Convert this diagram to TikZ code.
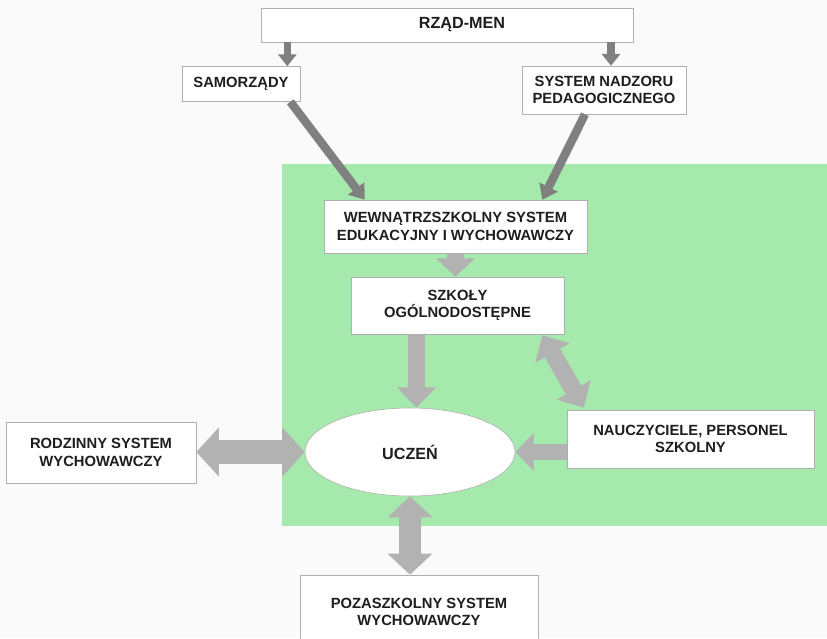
\documentclass[tikz,border=0pt]{standalone}
\usepackage{fontspec}
\setmainfont{Liberation Sans}
\usetikzlibrary{arrows.meta,calc,shapes.geometric}

\definecolor{pagebg}{RGB}{250,250,250}
\definecolor{schoolgreen}{RGB}{166,233,173}
\definecolor{boxline}{RGB}{175,175,175}
\definecolor{darkarrow}{RGB}{128,128,128}
\definecolor{blockgray}{RGB}{178,178,178}
\definecolor{textgray}{RGB}{30,30,30}

\begin{document}
\begin{tikzpicture}[x=0.025cm,y=-0.025cm]
    \clip (0,0) rectangle (827,638);
    \fill[pagebg] (0,0) rectangle (827,638);
    \fill[schoolgreen] (282,164) rectangle (827,526);

    \begin{scope}[every node/.style={draw=boxline, fill=white, align=center, inner sep=2pt, text=textgray, font=\bfseries\fontsize{10.5}{12.5}\selectfont}]
        \node[minimum width=9.3cm, minimum height=0.85cm, font=\bfseries\fontsize{11.5}{13}\selectfont] (men) at (447,25) {\hspace*{0.75cm}RZĄD-MEN};
        \node[minimum width=2.95cm, minimum height=0.875cm] (sam) at (241,84) {SAMORZĄDY};
        \node[minimum width=4.1cm, minimum height=1.2cm] (nadz) at (604,90) {SYSTEM NADZORU\\PEDAGOGICZNEGO};
        \node[minimum width=6.575cm, minimum height=1.325cm] (wewn) at (455.5,226.5) {WEWNĄTRZSZKOLNY SYSTEM\\EDUKACYJNY I WYCHOWAWCZY};
        \node[minimum width=5.325cm, minimum height=1.425cm] (szk) at (457.5,305.5) {SZKOŁY\\OGÓLNODOSTĘPNE};
        \node[shape=ellipse, inner sep=0pt, minimum width=5.25cm, minimum height=2.2cm, font=\bfseries\fontsize{11.5}{13}\selectfont] (ucz) at (410,452) {UCZEŃ};
        \node[minimum width=6.175cm, minimum height=1.45cm] (naucz) at (690.5,439) {NAUCZYCIELE, PERSONEL\\SZKOLNY};
        \node[minimum width=4.75cm, minimum height=1.525cm] (rodz) at (101,452.5) {RODZINNY SYSTEM\\WYCHOWAWCZY};
        \node[minimum width=5.95cm, minimum height=1.85cm] (poza) at (419,612) {POZASZKOLNY SYSTEM\\WYCHOWAWCZY};
    \end{scope}

    \coordinate (a1) at ($(sam.north east)+(-13,0)$);
    \coordinate (a2) at ($(nadz.north)+(7,0)$);
    \coordinate (a3) at ($(szk.south)+(-41,0)$);

    % from the ministry
    \begin{scope}[every edge/.style={draw=darkarrow, line width=5pt, -{Triangle[width=13pt,length=8.5pt]}}]
        \path (a1 |- men.south) edge (a1);
        \path (a2 |- men.south) edge (a2);
        \path ($(sam.south east)+(-10,0)$) edge[line width=6pt, -{Triangle[width=14pt,length=10pt]}] ($(wewn.north west)+(41,0)$);
        \path ($(nadz.south)+(-19,0)$) edge[line width=6pt, -{Triangle[width=14pt,length=10pt]}] ($(wewn.north east)+(-45,0)$);
    \end{scope}

    % inside the school
    \begin{scope}[every edge/.style={draw=blockgray, line width=12.5pt, >={Triangle[width=27pt,length=14.5pt]}}]
        \path (wewn.south) edge[->, >={Triangle[width=27pt,length=13pt]}] (wewn.south |- szk.north);
        \path (a3) edge[->] (a3 |- ucz.north);
        \path ($(szk.south east)+(-22,1)$) edge[<->] ($(naucz.north west)+(17,-2)$);
        \path (naucz.west |- ucz.east) edge[->, line width=11.5pt, >={Triangle[width=26pt,length=13pt]}] (ucz.east);
        \path (rodz.east |- ucz.west) edge[<->, line width=17pt, >={Triangle[width=34pt,length=16pt]}] (ucz.west);
        \path (ucz.south) edge[<->, line width=15pt, >={Triangle[width=31pt,length=15pt]}] (ucz.south |- poza.north);
    \end{scope}
\end{tikzpicture}
\end{document}
